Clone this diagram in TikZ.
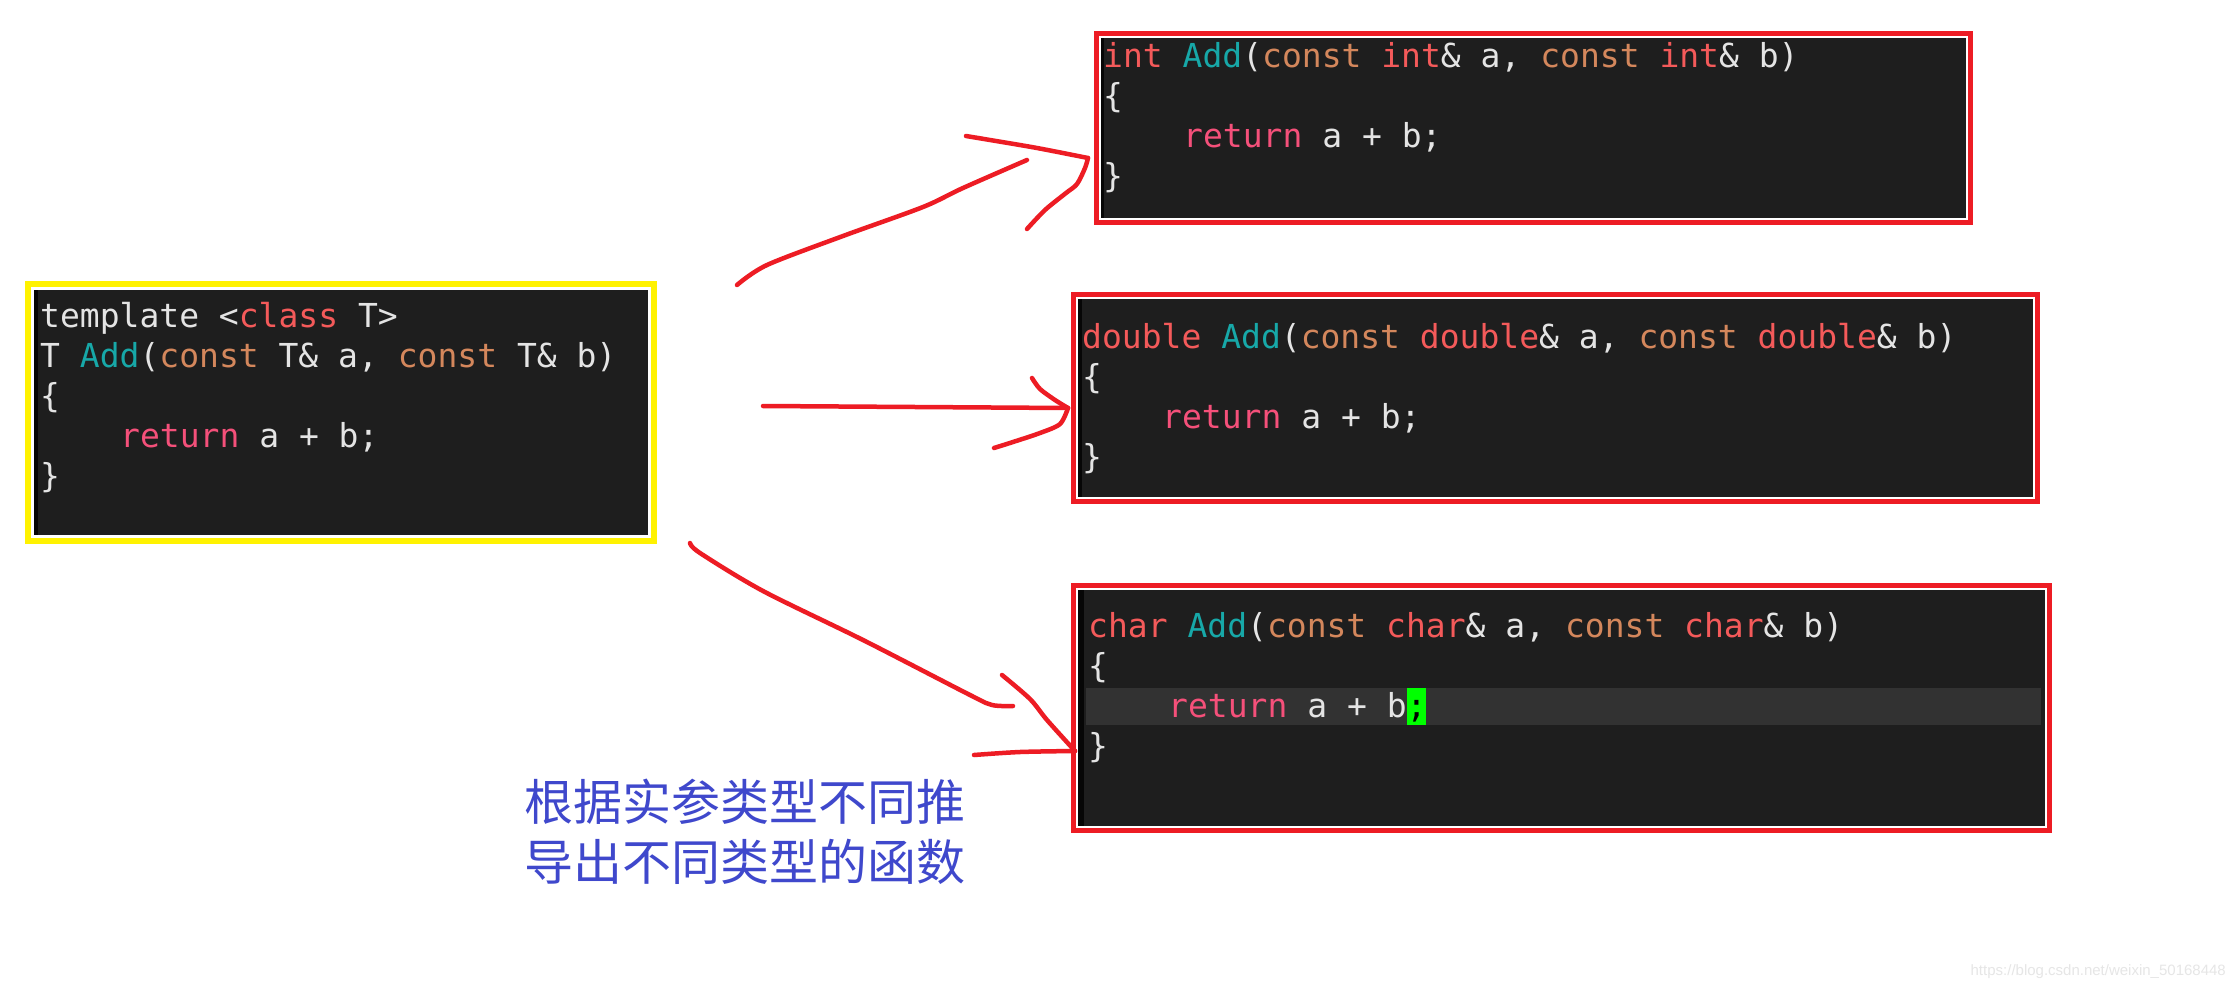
\documentclass[tikz,border=0pt]{standalone}
\usepackage{fontspec}
\setmonofont{DejaVu Sans Mono}
\newfontfamily\cjkfont{Noto Sans CJK SC}
\newfontfamily\wmfont{Liberation Sans}
\definecolor{cbg}{HTML}{1E1E1E}
\definecolor{cstripe}{HTML}{060606}
\definecolor{cplain}{HTML}{E4E4E4}
\definecolor{ckwc}{HTML}{F45A5A}
\definecolor{cfnc}{HTML}{17A8A8}
\definecolor{ccstc}{HTML}{D4875C}
\definecolor{cretc}{HTML}{F5507A}
\definecolor{pred}{HTML}{ED1C24}
\definecolor{pyel}{HTML}{FFF200}
\definecolor{cjkblue}{HTML}{3F48CC}
\definecolor{hlband}{HTML}{323232}
\definecolor{hlgreen}{HTML}{00FF00}
\definecolor{wmgray}{HTML}{E6E6E6}
\newcommand\codefont{\ttfamily\fontsize{33}{40}\selectfont}
\newcommand\ckw[1]{\textcolor{ckwc}{#1}}
\newcommand\cfn[1]{\textcolor{cfnc}{#1}}
\newcommand\ccst[1]{\textcolor{ccstc}{#1}}
\newcommand\cret[1]{\textcolor{cretc}{#1}}
\begin{document}
\begin{tikzpicture}[x=1pt,y=-1pt,
  codeline/.style={anchor=base west, inner sep=0pt, font=\codefont, text=cplain},
  darkbg/.style={fill=cbg},
  leftstripe/.style={fill=cstripe},
  redframe/.style={draw=pred, line width=5pt},
  yelframe/.style={draw=pyel, line width=6pt},
  handstroke/.style={draw=pred, line width=4.5pt, line cap=round, line join=round},
  cjktext/.style={font=\cjkfont\fontsize{49}{60}\selectfont, text=cjkblue, inner sep=0pt},
  wmtext/.style={font=\wmfont\fontsize{15}{18}\selectfont, text=wmgray, inner sep=0pt}]
\useasboundingbox (0,0) rectangle (2237,990);
\fill[white] (0,0) rectangle (2237,990);

% ---------- template box (yellow) ----------
\draw[yelframe] (28,284) rectangle (654,541);
\path[darkbg] (34,290) rectangle (648,535);
\path[leftstripe] (34,290) rectangle (38,535);
\node[codeline] (t1) at (40,327) {template <\ckw{class} T>};
\node[codeline] (t2) at (40,367) {T \cfn{Add}(\ccst{const} T\& a, \ccst{const} T\& b)};
\node[codeline] (t3) at (40,407) {\{};
\node[codeline] (t4) at (120,447) {\cret{return} a + b;};
\node[codeline] (t5) at (40,487) {\}};

% ---------- int box ----------
\draw[redframe] (1096.5,33.5) rectangle (1970.5,222.5);
\path[darkbg] (1101,38) rectangle (1966,218);
\path[leftstripe] (1101,38) rectangle (1104,218);
\node[codeline] (i1) at (1103,67) {\ckw{int} \cfn{Add}(\ccst{const} \ckw{int}\& a, \ccst{const} \ckw{int}\& b)};
\node[codeline] (i2) at (1103,107) {\{};
\node[codeline] (i3) at (1183,147) {\cret{return} a + b;};
\node[codeline] (i4) at (1103,187) {\}};

% ---------- double box ----------
\draw[redframe] (1073.5,294.5) rectangle (2037.5,501.5);
\path[darkbg] (1078,299) rectangle (2033,497);
\path[leftstripe] (1078,299) rectangle (1082,497);
\node[codeline] (d1) at (1082,348) {\ckw{double} \cfn{Add}(\ccst{const} \ckw{double}\& a, \ccst{const} \ckw{double}\& b)};
\node[codeline] (d2) at (1082,388) {\{};
\node[codeline] (d3) at (1162,428) {\cret{return} a + b;};
\node[codeline] (d4) at (1082,468) {\}};

% ---------- char box ----------
\draw[redframe] (1073.5,585.5) rectangle (2049.5,830.5);
\path[darkbg] (1078,590) rectangle (2045,826);
\path[leftstripe] (1078,590) rectangle (1084,826);
\path[fill=hlband] (1086,688) rectangle (2041,725);
\node[codeline] (c1) at (1088,637) {\ckw{char} \cfn{Add}(\ccst{const} \ckw{char}\& a, \ccst{const} \ckw{char}\& b)};
\node[codeline] (c2) at (1088,677) {\{};
\node[codeline] (c3) at (1168,717) {\cret{return} a + b{\setlength{\fboxsep}{0pt}\colorbox{hlgreen}{\rule[-8pt]{0pt}{37pt}\textcolor{black}{;}}}};
\node[codeline] (c4) at (1088,757) {\}};

% ---------- hand-drawn arrows ----------
\coordinate (a1s) at (737,285);
\coordinate (a1e) at (1027,160);
\coordinate (a1tip) at (1088,158);
\draw[handstroke] plot[smooth] coordinates {(a1s) (767,265) (843,236) (923,207) (963,188) (a1e)};
\draw[handstroke] plot[smooth] coordinates {(966,136) (990,140) (1037,148) (a1tip)};
\draw[handstroke] plot[smooth] coordinates {(a1tip) (1085,168) (1077,184) (1066,193) (1045,210) (1027,229)};

\coordinate (a2s) at (763,406);
\coordinate (a2tip) at (1068,408);
\draw[handstroke] (a2s) -- (a2tip);
\draw[handstroke] plot[smooth] coordinates {(1032,378) (1040,389) (1055,400) (a2tip)};
\draw[handstroke] plot[smooth] coordinates {(a2tip) (1060,424) (1040,433) (1013,442) (994,448)};

\coordinate (a3s) at (690,543);
\coordinate (a3e) at (1013,706);
\coordinate (a3tip) at (1075,751);
\draw[handstroke] plot[smooth] coordinates {(a3s) (700,553) (763,591) (863,640) (970,695) (992,705) (a3e)};
\draw[handstroke] plot[smooth] coordinates {(1002,675) (1030,699) (1047,720) (a3tip)};
\draw[handstroke] plot[smooth] coordinates {(974,755) (1020,752) (a3tip)};

% ---------- caption ----------
\node[cjktext] (cap1) at (745,802) {根据实参类型不同推};
\node[cjktext] (cap2) at (745,862) {导出不同类型的函数};

% ---------- watermark ----------
\node[wmtext, anchor=east] (wm) at (2226,972) {https://blog.csdn.net/weixin\_50168448};
\end{tikzpicture}
\end{document}
